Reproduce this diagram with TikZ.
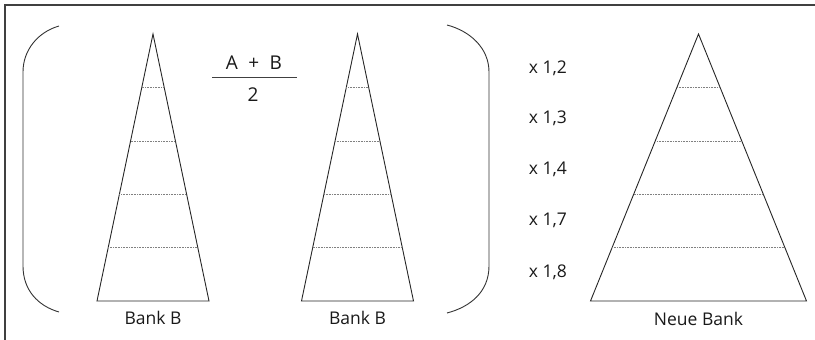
\documentclass[tikz,border=0pt]{standalone}
\usepackage{fontspec}
\setmainfont{Open Sans}
\tikzset{
  banklabel/.style={font=\fontsize{17.5}{20}\selectfont, text=black!90},
  fraclabel/.style={font=\fontsize{19}{22}\selectfont, text=black!90},
  pyramid/.style={line width=0.9pt, black!85},
  bracket/.style={line width=0.9pt, black!80},
  level/.style={densely dotted, line width=0.6pt, gray},
}
\begin{document}
\begin{tikzpicture}[x=1pt, y=-1pt]
  \useasboundingbox (0,0) rectangle (815,340);
  % Frame
  \draw[line width=1.3pt, black!75] (5,340) -- (5,5) -- (815,5);
  % Pyramids with their levels
  \foreach \cx/\hw in {153/56, 357.5/56, 698.5/108} {
    \draw[pyramid] (\cx,34) -- (\cx-\hw,301) -- (\cx+\hw,301) -- cycle;
    \foreach \k in {1,...,4}
      \draw[level] ({\cx-\hw*\k/5},{34+53.4*\k}) -- ({\cx+\hw*\k/5},{34+53.4*\k});
  }
  % Brackets
  \draw[bracket] (59,26) .. controls (38,32) and (23,50) .. (23,72) -- (23,266)
    .. controls (23,290) and (38,306) .. (59,312);
  \draw[bracket] (447,25) .. controls (470,31) and (489,48) .. (489,72) -- (489,266)
    .. controls (489,292) and (470,307) .. (447,313);
  % Fraction
  \node[fraclabel] (sumAB) at (254,63) {A\hspace{0.55em}+\hspace{0.55em}B};
  \node[fraclabel] (half) at (253,95) {2};
  \draw[line width=1pt, black!75] (212,77) -- (297,77);
  % Factors
  \foreach \f/\y in {2/68, 3/118, 4/169, 7/220, 8/272}
    \node[banklabel] (mult\f) at (548,\y) {x 1,\f};
  % Labels
  \node[banklabel] (bankA) at (153,318) {Bank B};
  \node[banklabel] (bankB) at (357.5,318) {Bank B};
  \node[banklabel] (neue) at (698.5,319) {Neue Bank};
\end{tikzpicture}
\end{document}
